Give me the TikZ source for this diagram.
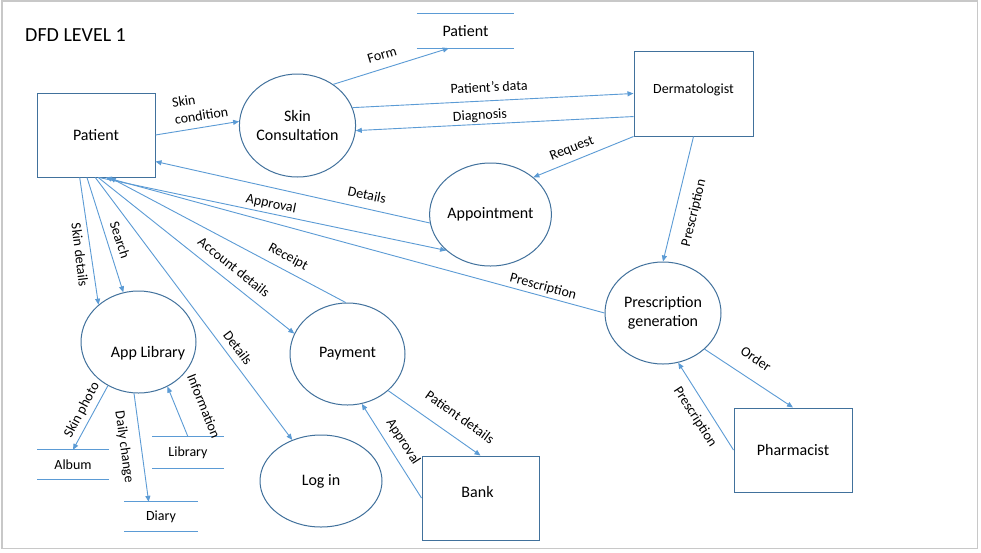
\documentclass[tikz,border=0pt]{standalone}
\usepackage{fontspec}
\setmainfont{Carlito}
\usetikzlibrary{shapes.geometric,arrows.meta}
\definecolor{brd}{HTML}{41719C}
\definecolor{flw}{HTML}{5B9BD5}
\definecolor{frm}{HTML}{C8C8C8}

\begin{document}
\begin{tikzpicture}
[x=1pt, y=-1pt,
 every node/.style={inner sep=0pt, font=\fontsize{16}{19}\selectfont},
 entity/.style={rectangle, draw=brd, line width=1pt, minimum width=118pt, minimum height=84pt},
 proc/.style={ellipse, draw=brd, line width=1pt, minimum width=115pt, minimum height=103pt, align=center},
 store/.style={rectangle, minimum height=30pt},
 flow/.style={line width=0.9pt, color=flw, -{Triangle[length=6pt,width=5pt]}},
 lbl/.style={font=\fontsize{14}{17}\selectfont}]
\useasboundingbox [fill=white] (0,0) rectangle (981,552);
\draw [frm, line width=1.5pt] (2,0.75) rectangle (977.5,548.5);
\node (title) [anchor=west, font=\fontsize{20}{24}\selectfont] at (25,35) {DFD LEVEL 1};
% entities and processes
\node (pat) [entity] at (96,135) {Patient};
\node (sc) [proc] at (297.5,125.5) {Skin\\Consultation};
\node (derm) [entity, minimum width=119pt, minimum height=85pt, label={[yshift=4pt, font=\fontsize{14}{17}\selectfont]center:Dermatologist}] at (693.5,93.5) {};
\node (app) [proc] at (490.5,214.5) {Appointment};
\node (pg) [proc, minimum width=116pt, minimum height=102pt] at (663,313) {Prescription\\generation};
\node (phar) [entity] at (793,450) {Pharmacist};
\node (lib) [proc, minimum height=102pt, label={[xshift=9.5pt, yshift=-11pt]center:App Library}] at (138.5,342) {};
\node (pay) [proc, minimum height=102pt] at (347.5,354) {Payment};
\node (login) [proc, minimum width=122pt, minimum height=92pt] at (321,481) {Log in};
\node (bank) [entity, minimum width=117pt, label={[xshift=-3pt, yshift=6pt]center:Bank}] at (480.5,498) {};
% data stores
\node (pst) [store, minimum width=97pt, minimum height=34pt] at (465.5,31) {Patient};
\node (alb) [store, lbl, minimum width=71pt, minimum height=29pt] at (73,464.5) {Album};
\node (libs) [store, lbl, minimum width=71pt, minimum height=31pt] at (188,452.5) {Library};
\node (diary) [store, lbl, minimum width=73pt, minimum height=29pt] at (161,516.5) {Diary};
\foreach \s in {pst,alb,libs,diary}
  \draw [flw, line width=1pt] (\s.north west) -- (\s.north east) (\s.south west) -- (\s.south east);
% flows
\draw [flow] (pat.east) -- (sc.176);
\draw [flow] (sc.49) -- (pst.226);
\draw [flow] (sc.18) -- (derm.west);
\draw [flow] (derm.201) -- (sc.-5);
\draw [flow] (derm.south west) -- (app.41);
\draw [flow] (derm.south) -- (pg.north);
\draw [flow] (app.188) -- (pat.-24);
\draw [flow] (pat.-86) -- (app.219);
\draw [flow] (pg.west) -- (pat.-77);
\draw [flow] (pat.249) -- (lib.137);
\draw [flow] (pat.258) -- (lib.107);
\draw [flow] (pat.-91) -- (login.125);
\draw [flow] (pat.-87) -- (pay.159);
\draw [flow] (pay.92) -- (pat.-72);
\draw [flow] (lib.235) -- (alb.north);
\draw [flow] (lib.265) -- (diary.130);
\draw [flow] (libs.north) -- (lib.303);
\draw [flow] (pay.318) -- (bank.north);
\draw [flow] (bank.west) -- (pay.286);
\draw [flow] (pg.319) -- (phar.north);
\draw [flow] (phar.west) -- (pg.287);
% flow labels
\node (lskin) [lbl, rotate=9, align=left] at (200,107) {Skin\\condition};
\node (lform) [lbl, rotate=17] at (382,55) {Form};
\node (ldata) [lbl, rotate=3] at (489,87) {Patient’s data};
\node (ldiag) [lbl, rotate=3] at (480,116) {Diagnosis};
\node (lreq) [lbl, rotate=22] at (572,149) {Request};
\node (lpres1) [lbl, rotate=76.5] at (694,213) {Prescription};
\node (ldet1) [lbl, rotate=-12] at (367,195) {Details};
\node (lappr1) [lbl, rotate=-11.5] at (271,204) {Approval};
\node (lpres2) [lbl, rotate=-15] at (543,287) {Prescription};
\node (lskd) [lbl, rotate=-83] at (80,255) {Skin details};
\node (lsrch) [lbl, rotate=-72] at (120,240) {Search};
\node (ldet2) [lbl, rotate=-53] at (238,348) {Details};
\node (lacc) [lbl, rotate=-38.5] at (234,267) {Account details};
\node (lrec) [lbl, rotate=-28] at (288,257) {Receipt};
\node (lphoto) [lbl, rotate=62] at (82,410) {Skin photo};
\node (ldaily) [lbl, rotate=-82] at (124,447) {Daily change};
\node (linfo) [lbl, rotate=-68] at (204,406) {Information};
\node (lpdet) [lbl, rotate=-35.5] at (460,417) {Patient details};
\node (lappr2) [lbl, rotate=-57] at (403,442) {Approval};
\node (lorder) [lbl, rotate=-33.5] at (756,359) {Order};
\node (lpres3) [lbl, rotate=-57] at (695,417) {Prescription};
\end{tikzpicture}
\end{document}
